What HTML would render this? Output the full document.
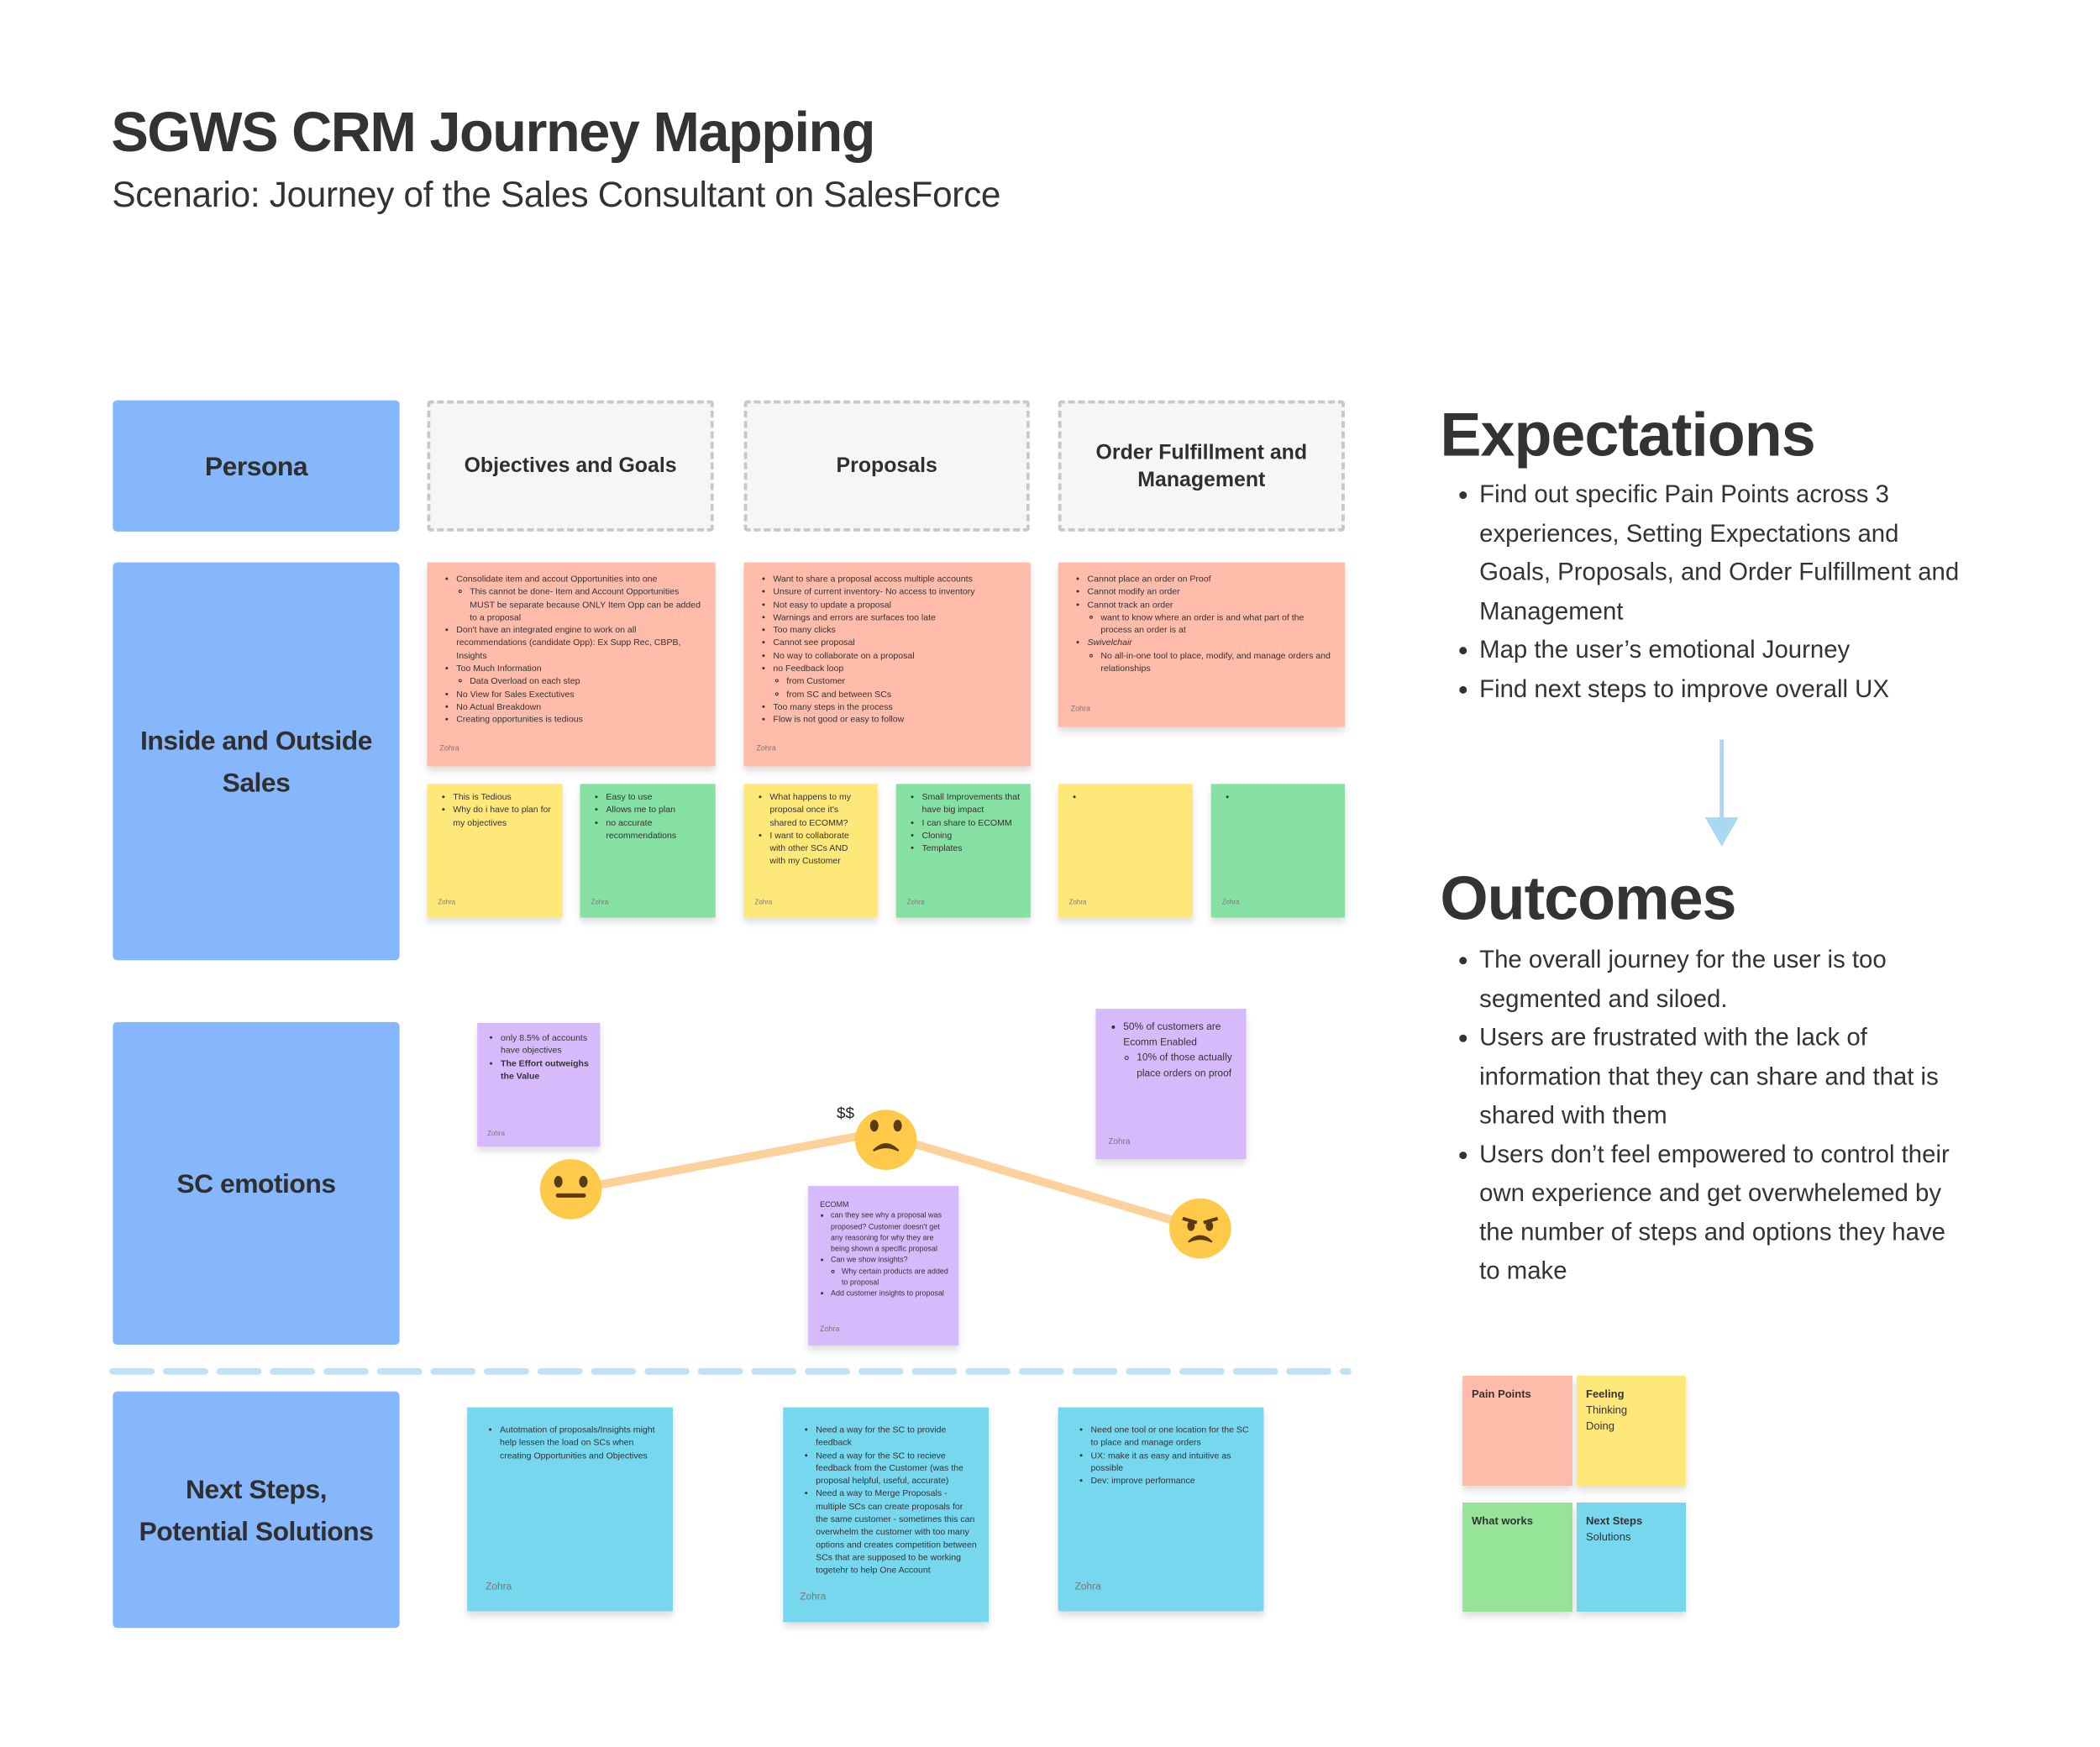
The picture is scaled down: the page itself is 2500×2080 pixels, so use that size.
<!DOCTYPE html>
<html><head><meta charset="utf-8"><style>
*{box-sizing:border-box}
body{margin:0;width:2500px;height:2080px;background:#fff;position:relative;overflow:hidden;font-family:"Liberation Sans",sans-serif;color:#333}
#w{position:absolute;left:0;top:0;width:2500px;height:2080px;transform:scale(0.995);transform-origin:0 0}
.a{position:absolute}
.lab{position:absolute;background:#86b6fc;border-radius:5px;display:flex;align-items:center;justify-content:center;text-align:center;font-weight:bold;font-size:32px;line-height:50px;color:#2f2f2f;letter-spacing:-0.5px}
.hd{position:absolute;background:#f6f6f6;border:4px dashed #c8c8c8;border-radius:4px;display:flex;align-items:center;justify-content:center;text-align:center;font-weight:bold;font-size:25px;line-height:33px;color:#2f2f2f}
.st{position:absolute;box-shadow:0 6px 8px rgba(0,0,0,.13);font-size:10.6px;line-height:15.3px;color:#333}
.st ul{margin:0;padding-left:13px}
.st ul ul{padding-left:16px}
.st li{margin:0}
.z{position:absolute;font-size:9px;color:#777}
.r{background:#ffbcab}.y{background:#ffe87a}.g{background:#87e0a3}.p{background:#d7bafc}.c{background:#76d7ef}
.rt{position:absolute;left:1725px;width:635px;font-size:29.5px;line-height:46.5px;color:#333}
.rt ul{margin:0;padding-left:45px}
.big{position:absolute;left:1723px;font-size:74px;font-weight:bold;color:#333;letter-spacing:-1px}
</style></head><body>
<div id="w">
<div class="a" style="left:133px;top:120px;font-size:67px;font-weight:bold;letter-spacing:-1.5px;color:#333">SGWS CRM Journey Mapping</div>
<div class="a" style="left:134px;top:210px;font-size:42.5px;color:#333;letter-spacing:-0.3px">Scenario: Journey of the Sales Consultant on SalesForce</div>

<div class="lab" style="left:135px;top:479px;width:343px;height:157px">Persona</div>
<div class="hd" style="left:511px;top:479px;width:343px;height:157px">Objectives and Goals</div>
<div class="hd" style="left:890px;top:479px;width:342px;height:157px">Proposals</div>
<div class="hd" style="left:1266px;top:479px;width:343px;height:157px">Order Fulfillment and<br>Management</div>

<div class="lab" style="left:135px;top:673px;width:343px;height:476px">Inside and Outside<br>Sales</div>
<div class="lab" style="left:135px;top:1223px;width:343px;height:386px">SC emotions</div>
<div class="lab" style="left:135px;top:1665px;width:343px;height:283px">Next Steps,<br>Potential Solutions</div>

<div class="st r" style="left:511px;top:673px;width:345px;height:244px;padding:13px 16px 0 22px">
<ul><li>Consolidate item and accout Opportunities into one<ul><li>This cannot be done- Item and Account Opportunities MUST be separate because ONLY Item Opp can be added to a proposal</li></ul></li>
<li>Don't have an integrated engine to work on all recommendations (candidate Opp): Ex Supp Rec, CBPB, Insights</li>
<li>Too Much Information<ul><li>Data Overload on each step</li></ul></li>
<li>No View for Sales Exectutives</li><li>No Actual Breakdown</li><li>Creating opportunities is tedious</li></ul>
<div class="z" style="left:15px;top:215px">Zohra</div></div>

<div class="st r" style="left:890px;top:673px;width:343px;height:244px;padding:13px 10px 0 22px">
<ul><li>Want to share a proposal accoss multiple accounts</li><li>Unsure of current inventory- No access to inventory</li><li>Not easy to update a proposal</li><li>Warnings and errors are surfaces too late</li><li>Too many clicks</li><li>Cannot see proposal</li><li>No way to collaborate on a proposal</li><li>no Feedback loop<ul><li>from Customer</li><li>from SC and between SCs</li></ul></li><li>Too many steps in the process</li><li>Flow is not good or easy to follow</li></ul>
<div class="z" style="left:15px;top:215px">Zohra</div></div>

<div class="st r" style="left:1266px;top:673px;width:343px;height:197px;padding:13px 16px 0 22px">
<ul><li>Cannot place an order on Proof</li><li>Cannot modify an order</li><li>Cannot track an order<ul><li>want to know where an order is and what part of the process an order is at</li></ul></li><li><i>Swivelchair</i><ul><li>No all-in-one tool to place, modify, and manage orders and relationships</li></ul></li></ul>
<div class="z" style="left:15px;top:168px">Zohra</div></div>

<div class="st y" style="left:511px;top:938px;width:162px;height:160px;padding:9px 12px 0 18px"><ul><li>This is Tedious</li><li>Why do i have to plan for my objectives</li></ul><div class="z" style="left:13px;top:134px;font-size:8px">Zohra</div></div>
<div class="st g" style="left:694px;top:938px;width:162px;height:160px;padding:9px 12px 0 18px"><ul><li>Easy to use</li><li>Allows me to plan</li><li>no accurate recommendations</li></ul><div class="z" style="left:13px;top:134px;font-size:8px">Zohra</div></div>
<div class="st y" style="left:890px;top:938px;width:160px;height:160px;padding:9px 18px 0 18px"><ul><li>What happens to my proposal once it's shared to ECOMM?</li><li>I want to collaborate with other SCs AND with my Customer</li></ul><div class="z" style="left:13px;top:134px;font-size:8px">Zohra</div></div>
<div class="st g" style="left:1072px;top:938px;width:161px;height:160px;padding:9px 8px 0 18px"><ul><li>Small Improvements that have big impact</li><li>I can share to ECOMM</li><li>Cloning</li><li>Templates</li></ul><div class="z" style="left:13px;top:134px;font-size:8px">Zohra</div></div>
<div class="st y" style="left:1266px;top:938px;width:161px;height:160px;padding:9px 8px 0 18px"><ul><li>&nbsp;</li></ul><div class="z" style="left:13px;top:134px;font-size:8px">Zohra</div></div>
<div class="st g" style="left:1449px;top:938px;width:160px;height:160px;padding:9px 8px 0 18px"><ul><li>&nbsp;</li></ul><div class="z" style="left:13px;top:134px;font-size:8px">Zohra</div></div>

<svg class="a" style="left:0;top:0" width="2500" height="2080">
<polyline points="716,1418 1025,1360 1098,1370 1402,1460" fill="none" stroke="#fcd19c" stroke-width="10" stroke-linecap="round"/>
<g>
<ellipse cx="683" cy="1423" rx="37" ry="36" fill="#ffc94a"/>
<ellipse cx="668" cy="1414" rx="5" ry="7" fill="#5a3a10"/><ellipse cx="698" cy="1414" rx="5" ry="7" fill="#5a3a10"/>
<rect x="665" y="1428" width="36" height="5" rx="2.5" fill="#5a3a10"/>
</g>
<g>
<ellipse cx="1060" cy="1364" rx="37" ry="36" fill="#ffc94a"/>
<ellipse cx="1046" cy="1347" rx="5" ry="7" fill="#5a3a10"/><ellipse cx="1074" cy="1347" rx="5" ry="7" fill="#5a3a10"/>
<path d="M1045 1377 Q1060 1361 1075 1377 Q1060 1369 1045 1377Z" fill="#5a3a10" stroke="#5a3a10" stroke-width="2"/>
</g>
<g>
<ellipse cx="1436" cy="1470" rx="37" ry="36" fill="#ffc94a"/>
<path d="M1415 1458 L1432 1463" stroke="#5a3a10" stroke-width="4"/><path d="M1457 1458 L1440 1463" stroke="#5a3a10" stroke-width="4"/>
<ellipse cx="1425" cy="1467" rx="4.5" ry="6" fill="#5a3a10"/><ellipse cx="1447" cy="1467" rx="4.5" ry="6" fill="#5a3a10"/>
<path d="M1422 1486 Q1436 1472 1450 1486 Q1436 1479 1422 1486Z" fill="#5a3a10" stroke="#5a3a10" stroke-width="2"/>
</g>
<line x1="135" y1="1641" x2="1613" y2="1641" stroke="#bfe2f6" stroke-width="8" stroke-dasharray="46,18" stroke-linecap="round"/>
<line x1="2060" y1="885" x2="2060" y2="985" stroke="#a9d9f2" stroke-width="5"/>
<path d="M2040 978 L2060 1013 L2080 978 Z" fill="#a9d9f2"/>
</svg>
<div class="a" style="left:1001px;top:1322px;font-size:19px;color:#222">$$</div>

<div class="st p" style="left:571px;top:1224px;width:147px;height:148px;padding:11px 6px 0 15px"><ul><li>only 8.5% of accounts have objectives</li><li><b>The Effort outweighs the Value</b></li></ul><div class="z" style="left:12px;top:125px;font-size:8px">Zohra</div></div>
<div class="st p" style="left:1311px;top:1207px;width:180px;height:180px;padding:12px 14px 0 20px;font-size:12px;line-height:18.5px"><ul><li>50% of customers are Ecomm Enabled<ul><li>10% of those actually place orders on proof</li></ul></li></ul><div class="z" style="left:15px;top:151px;font-size:10px">Zohra</div></div>
<div class="st p" style="left:967px;top:1419px;width:180px;height:191px;padding:16px 10px 0 14px;font-size:9px;line-height:13.3px">ECOMM<ul style="padding-left:13px"><li>can they see why a proposal was proposed? Customer doesn't get any reasoning for why they are being shown a specific proposal</li><li>Can we show insights?<ul style="padding-left:13px"><li>Why certain products are added to proposal</li></ul></li><li>Add customer insights to proposal</li></ul><div class="z" style="left:14px;top:165px;font-size:9px">Zohra</div></div>

<div class="st c" style="left:559px;top:1684px;width:246px;height:244px;padding:20px 18px 0 26px"><ul><li>Autotmation of proposals/Insights might help lessen the load on SCs when creating Opportunities and Objectives</li></ul><div class="z" style="left:22px;top:207px;font-size:12px">Zohra</div></div>
<div class="st c" style="left:937px;top:1684px;width:246px;height:257px;padding:20px 14px 0 26px"><ul><li>Need a way for the SC to provide feedback</li><li>Need a way for the SC to recieve feedback from the Customer (was the proposal helpful, useful, accurate)</li><li>Need a way to Merge Proposals - multiple SCs can create proposals for the same customer - sometimes this can overwhelm the customer with too many options and creates competition between SCs that are supposed to be working togetehr to help One Account</li></ul><div class="z" style="left:20px;top:219px;font-size:12px">Zohra</div></div>
<div class="st c" style="left:1266px;top:1684px;width:246px;height:244px;padding:20px 16px 0 26px"><ul><li>Need one tool or one location for the SC to place and manage orders</li><li>UX: make it as easy and intuitive as possible</li><li>Dev: improve performance</li></ul><div class="z" style="left:20px;top:207px;font-size:12px">Zohra</div></div>

<div class="big" style="top:477px">Expectations</div>
<div class="rt" style="top:569px"><ul><li>Find out specific Pain Points across 3 experiences, Setting Expectations and Goals, Proposals, and Order Fulfillment and Management</li><li>Map the user’s emotional Journey</li><li>Find next steps to improve overall UX</li></ul></div>
<div class="big" style="top:1032px">Outcomes</div>
<div class="rt" style="top:1126px"><ul><li>The overall journey for the user is too segmented and siloed.</li><li>Users are frustrated with the lack of information that they can share and that is shared with them</li><li>Users don’t feel empowered to control their own experience and get overwhelemed by the number of steps and options they have to make</li></ul></div>
</div>

<div class="st r" style="left:1741px;top:1638px;width:131px;height:131px;padding:12px 11px;font-size:13px;line-height:19px"><b>Pain Points</b></div>
<div class="st y" style="left:1877px;top:1638px;width:130px;height:131px;padding:12px 11px;font-size:13px;line-height:19px"><b>Feeling</b><br>Thinking<br>Doing</div>
<div class="st g" style="left:1741px;top:1789px;width:131px;height:130px;padding:12px 11px;font-size:13px;line-height:19px;background:#95e497"><b>What works</b></div>
<div class="st c" style="left:1877px;top:1789px;width:130px;height:130px;padding:12px 11px;font-size:13px;line-height:19px"><b>Next Steps</b><br>Solutions</div>

</body></html>
